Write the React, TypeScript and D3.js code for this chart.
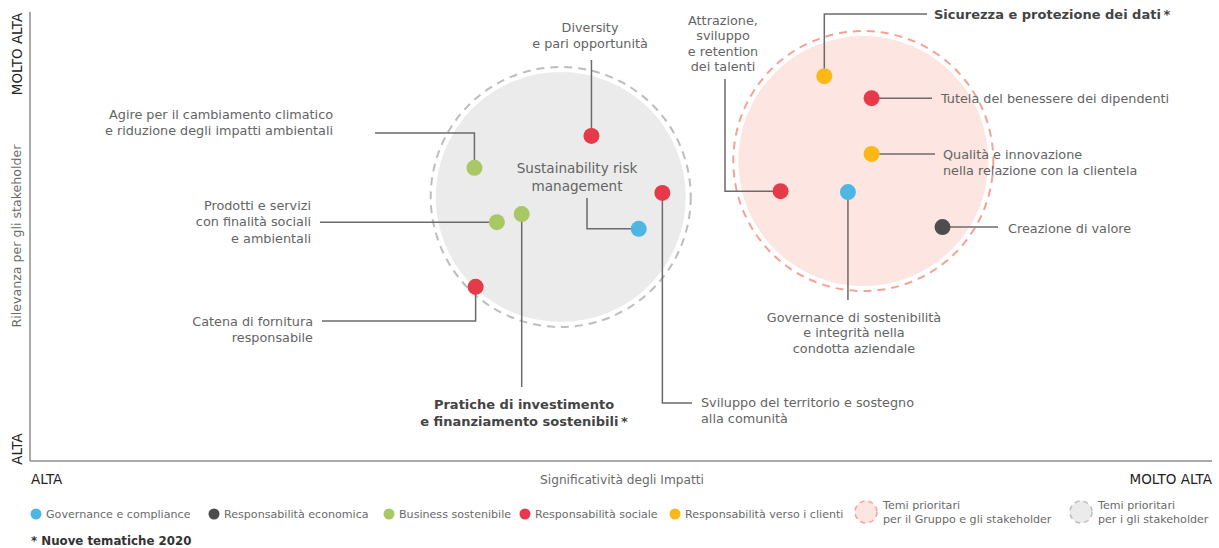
import * as d3 from "d3";

const W = 1219;
const H = 548;
const FONT = "'DejaVu Sans', sans-serif";

// temi materiali: posizione (significatività impatti, rilevanza stakeholder) e ambito
const THEMES = [
  "Diversity e pari opportunità",
  "Agire per il cambiamento climatico",
  "Sustainability risk management",
  "Sviluppo del territorio",
  "Prodotti e servizi",
  "Pratiche di investimento",
  "Catena di fornitura",
  "Attrazione dei talenti",
  "Sicurezza dei dati",
  "Tutela dei dipendenti",
  "Qualità e innovazione",
  "Governance di sostenibilità",
  "Creazione di valore",
];
const IMPATTI = [47.5, 37.6, 51.5, 53.5, 39.5, 41.6, 37.7, 63.5, 67.2, 71.2, 71.2, 69.2, 77.2];
const RILEVANZA = [72.4, 65.3, 51.7, 59.7, 53.2, 55.0, 38.8, 60.1, 85.7, 80.8, 68.4, 59.9, 52.1];
const AMBITO = [3, 2, 0, 3, 2, 2, 3, 3, 4, 3, 4, 0, 1];

const CATEGORY_LABELS = [
  "Governance e compliance",
  "Responsabilità economica",
  "Business sostenibile",
  "Responsabilità sociale",
  "Responsabilità verso i clienti",
];
const CATEGORY_COLORS = ["#4db6e2", "#4d4d4d", "#a8c765", "#e63a4b", "#fbb817"];

// aree prioritarie
const CLUSTER_X = [44.9, 70.5];
const CLUSTER_Y = [58.8, 66.8];
const CLUSTER_R = [11.0, 11.0];
const CLUSTER_FILL = ["#ebebeb", "#fde5e1"];
const CLUSTER_DASH = ["#bdbdbd", "#f2a396"];
const CLUSTER_LEGEND = [
  ["Temi prioritari", "per i gli stakeholder"],
  ["Temi prioritari", "per il Gruppo e gli stakeholder"],
];

// leader lines + labels (layout only): v = go vertical to y, h = go horizontal to x
type Step = ["v" | "h", number];
type Note = {
  route: Step[];
  lines: string[];
  x: number;
  y: number;
  anchor: "start" | "middle" | "end";
  bold?: boolean;
  lh?: number;
  size?: number;
};
const NOTES: Note[] = [
  { route: [["v", 60]], lines: ["Diversity", "e pari opportunità"], x: 590, y: 27, anchor: "middle" },
  { route: [["v", 133], ["h", 375]], lines: ["Agire per il cambiamento climatico", "e riduzione degli impatti ambientali"], x: 333, y: 114, anchor: "end" },
  { route: [["h", 587], ["v", 198]], lines: ["Sustainability risk", "management"], x: 577, y: 168, anchor: "middle", lh: 18, size: 13.6 },
  { route: [["v", 403], ["h", 692]], lines: ["Sviluppo del territorio e sostegno", "alla comunità"], x: 701, y: 402, anchor: "start" },
  { route: [["h", 320]], lines: ["Prodotti e servizi", "con finalità sociali", "e ambientali"], x: 311, y: 205, anchor: "end", lh: 16.5 },
  { route: [["v", 387]], lines: ["Pratiche di investimento", "e finanziamento sostenibili\u2009*"], x: 524, y: 404, anchor: "middle", bold: true, lh: 17 },
  { route: [["v", 321], ["h", 322]], lines: ["Catena di fornitura", "responsabile"], x: 313, y: 321, anchor: "end" },
  { route: [["h", 725], ["v", 79]], lines: ["Attrazione,", "sviluppo", "e retention", "dei talenti"], x: 723, y: 20, anchor: "middle", lh: 15.5 },
  { route: [["v", 14], ["h", 927]], lines: ["Sicurezza e protezione dei dati\u2009*"], x: 934, y: 14, anchor: "start", bold: true },
  { route: [["h", 932]], lines: ["Tutela del benessere dei dipendenti"], x: 941, y: 98, anchor: "start" },
  { route: [["h", 935]], lines: ["Qualità e innovazione", "nella relazione con la clientela"], x: 943, y: 154, anchor: "start" },
  { route: [["v", 300]], lines: ["Governance di sostenibilità", "e integrità nella", "condotta aziendale"], x: 854, y: 317, anchor: "middle", lh: 15.5 },
  { route: [["h", 998]], lines: ["Creazione di valore"], x: 1008, y: 228, anchor: "start" },
];

const LEGEND_X = [36, 214, 389, 525, 675];
const LEGEND_CLUSTER_X = [1081, 866];

const PLOT = { left: 30, right: 1212, top: 12, bottom: 461 };
const LABEL_SIZE = 12.8;
const TEXT_GRAY = "#646464";

export default function App() {
  const x = d3.scaleLinear().domain([0, 100]).range([PLOT.left, PLOT.right]);
  const y = d3.scaleLinear().domain([0, 100]).range([PLOT.bottom, PLOT.top]);
  const rPx = (i: number) => x(CLUSTER_X[i] + CLUSTER_R[i]) - x(CLUSTER_X[i]);

  const leader = (i: number) => {
    const p = d3.path();
    let cx = x(IMPATTI[i]);
    let cy = y(RILEVANZA[i]);
    p.moveTo(cx, cy);
    for (const [dir, v] of NOTES[i].route) {
      if (dir === "v") cy = v;
      else cx = v;
      p.lineTo(cx, cy);
    }
    return p.toString();
  };

  return (
    <svg width={W} height={H} viewBox={`0 0 ${W} ${H}`} style={{ position: "absolute", left: 0, top: 0, fontFamily: FONT }}>
      <rect width={W} height={H} fill="#fff" />
      {/* aree prioritarie */}
      {CLUSTER_X.map((cx, i) => (
        <g key={"c" + i}>
          <circle cx={x(cx)} cy={y(CLUSTER_Y[i])} r={rPx(i) - 5} fill={CLUSTER_FILL[i]} />
          <circle cx={x(cx)} cy={y(CLUSTER_Y[i])} r={rPx(i)} fill="none" stroke={CLUSTER_DASH[i]} strokeWidth={2} strokeDasharray="8 6" />
        </g>
      ))}

      {/* assi */}
      <line x1={PLOT.left} x2={PLOT.left} y1={PLOT.top} y2={PLOT.bottom} stroke="#8c8c8c" strokeWidth={1.5} />
      <line x1={PLOT.left} x2={PLOT.right} y1={PLOT.bottom} y2={PLOT.bottom} stroke="#8c8c8c" strokeWidth={1.5} />
      <text transform={`translate(21.5,54) rotate(-90)`} textAnchor="middle" fontSize={13.5} fill="#222">MOLTO ALTA</text>
      <text transform={`translate(21.5,449) rotate(-90)`} textAnchor="middle" fontSize={13.5} fill="#222">ALTA</text>
      <text transform={`translate(21,236) rotate(-90)`} textAnchor="middle" fontSize={12.6} fill="#6a6a6a">Rilevanza per gli stakeholder</text>
      <text x={PLOT.left + 1} y={484} fontSize={13.5} fill="#222">ALTA</text>
      <text x={622} y={484} textAnchor="middle" fontSize={12.2} fill="#6a6a6a">Significatività degli Impatti</text>
      <text x={PLOT.right} y={484} textAnchor="end" fontSize={13.5} fill="#222">MOLTO ALTA</text>

      {/* linee di richiamo */}
      {THEMES.map((t, i) => (
        <path key={"l" + t} d={leader(i)} fill="none" stroke="#6b6b6b" strokeWidth={1.5} />
      ))}

      {/* temi */}
      {THEMES.map((t, i) => (
        <circle key={"p" + t} cx={x(IMPATTI[i])} cy={y(RILEVANZA[i])} r={8} fill={CATEGORY_COLORS[AMBITO[i]]} />
      ))}

      {NOTES.map((n, i) => (
        <text
          key={"t" + i}
          x={n.x}
          textAnchor={n.anchor}
          fontSize={n.size ?? (n.bold ? 13 : LABEL_SIZE)}
          fontWeight={n.bold ? 700 : 400}
          fill={n.bold ? "#444" : TEXT_GRAY}
        >
          {n.lines.map((ln, j) => (
            <tspan key={j} x={n.x} y={n.y + j * (n.lh ?? 16)} dominantBaseline="central">
              {ln}
            </tspan>
          ))}
        </text>
      ))}

      {/* legenda */}
      {CATEGORY_LABELS.map((lab, i) => (
        <g key={"lg" + i}>
          <circle cx={LEGEND_X[i]} cy={514} r={5.5} fill={CATEGORY_COLORS[i]} />
          <text x={LEGEND_X[i] + 10} y={514} dominantBaseline="central" fontSize={11.1} fill="#6a6a6a">
            {lab}
          </text>
        </g>
      ))}
      {LEGEND_CLUSTER_X.map((lx, i) => (
        <g key={"lc" + i}>
          <circle cx={lx} cy={512} r={11} fill={CLUSTER_FILL[i]} stroke={CLUSTER_DASH[i]} strokeWidth={1.5} strokeDasharray="5 4" />
          <text x={lx + 17} fontSize={11.1} fill="#6a6a6a">
            {CLUSTER_LEGEND[i].map((ln, j) => (
              <tspan key={j} x={lx + 17} y={505 + j * 14} dominantBaseline="central">
                {ln}
              </tspan>
            ))}
          </text>
        </g>
      ))}
      <text x={PLOT.left + 1} y={541} dominantBaseline="central" fontSize={11.8} fontWeight={700} fill="#333">
        * Nuove tematiche 2020
      </text>
    </svg>
  );
}
